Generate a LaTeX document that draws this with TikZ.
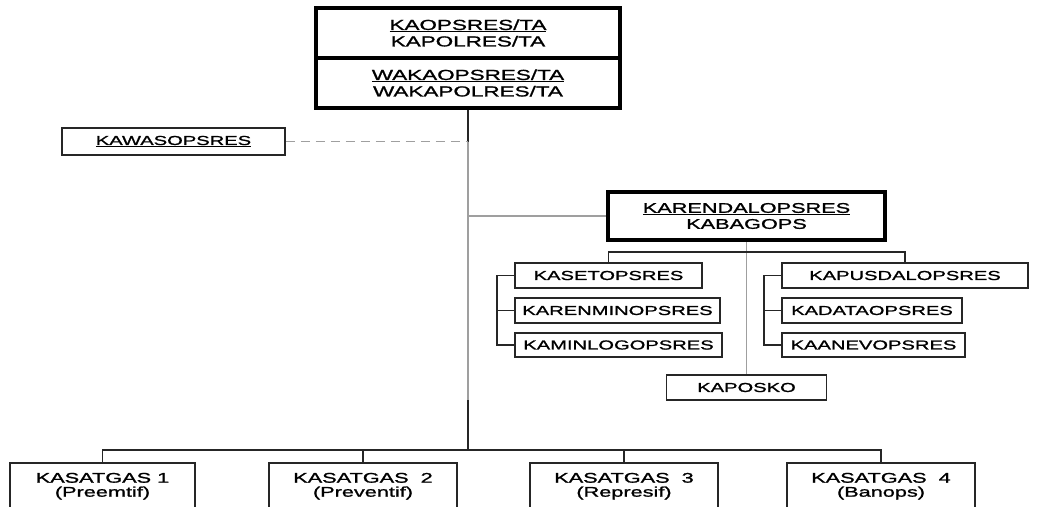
\documentclass[tikz,border=0pt]{standalone}
\usepackage{fontspec}
\setmainfont[FakeStretch=1.55,FakeBold=1.3]{Liberation Sans}
\usetikzlibrary{positioning}

\tikzset{
  orgbox/.style={draw=black!85, line width=1.8pt, inner sep=0pt, align=center,
    font=\fontsize{13}{16}\selectfont},
  headbox/.style={orgbox, draw=black, line width=3.8pt,
    font=\fontsize{14.5}{16.5}\selectfont},
  taskbox/.style={orgbox, anchor=north, minimum width=188pt, inner ysep=10pt,
    font=\fontsize{14}{14}\selectfont},
  link/.style={black!85, line width=1.8pt},
  faint/.style={gray!75, line width=1.8pt},
}

\begin{document}
\begin{tikzpicture}[x=1pt,y=-1pt]
  \useasboundingbox (0,0) rectangle (1040,506);
  \clip (0,0) rectangle (1040,506);

  % head of the chart
  \node [headbox, minimum width=304pt, minimum height=50pt] (ka) at (468,33)
    {\underline{KAOPSRES/TA}\\KAPOLRES/TA};
  \node [headbox, minimum width=304pt, minimum height=50pt] (waka) at (468,83)
    {\underline{WAKAOPSRES/TA}\\WAKAPOLRES/TA};

  \node [orgbox, minimum width=223pt, minimum height=27pt] (kawas) at (173.5,141.5)
    {\underline{KAWASOPSRES}};

  % staff
  \node [headbox, minimum width=277pt, minimum height=48pt,
    font=\fontsize{14}{16}\selectfont] (karendal) at (746.5,216)
    {\underline{KARENDALOPSRES}\\KABAGOPS};
  \node [orgbox, minimum width=187pt, minimum height=25pt] (kaset) at (608.5,275.5) {KASETOPSRES};
  \node [orgbox, minimum width=205pt, minimum height=25pt] (karenmin) at (617.5,310.5) {KARENMINOPSRES};
  \node [orgbox, minimum width=207pt, minimum height=24pt] (kaminlog) at (618.5,345) {KAMINLOGOPSRES};
  \node [orgbox, minimum width=246pt, minimum height=25pt] (kapusdal) at (905,275.5) {KAPUSDALOPSRES};
  \node [orgbox, minimum width=180pt, minimum height=25pt] (kadata) at (872,310.5) {KADATAOPSRES};
  \node [orgbox, minimum width=183pt, minimum height=24pt] (kaanev) at (873.5,345) {KAANEVOPSRES};
  \node [orgbox, minimum width=160pt, minimum height=25pt] (kaposko) at (746.5,387.5) {KAPOSKO};

  % task forces
  \node [taskbox, minimum width=185pt] (satgas1) at (102.5,462) {KASATGAS 1\\(Preemtif)};
  \node [taskbox] (satgas2) at (363,462) {KASATGAS\ \ 2\\(Preventif)};
  \node [taskbox] (satgas3) at (624,462) {KASATGAS\ \ 3\\(Represif)};
  \node [taskbox] (satgas4) at (881,462) {KASATGAS\ \ 4\\(Banops)};

  \coordinate (busy) at (0,450);
  \coordinate (midy) at (0,400);

  % command line
  \draw [link] (waka.south) -- (waka.south |- kawas.east);
  \draw [faint] (waka.south |- kawas.east) -- (waka.south |- midy);
  \draw [link] (waka.south |- midy) -- (waka.south |- busy);
  \draw [faint, dashed, dash pattern=on 9pt off 6pt] (kawas.east) -- (kawas.east -| waka.south);
  \draw [faint] (karendal.west) -- (karendal.west -| waka.south);

  % staff lines
  \draw [faint] (karendal.south) -- (kaposko.north);
  \draw [link] (kaset.north) -- ++(0,-10) -| (kapusdal.north);
  \draw [link] (kaset.west) -- ++(-17,0) |- (kaminlog.west);
  \draw [link] (karenmin.west) -- ++(-17,0);
  \draw [link] (kapusdal.west) -- ++(-17,0) |- (kaanev.west);
  \draw [link] (kadata.west) -- ++(-17,0);

  % task force bus
  \draw [link] (satgas1.north) -- ++(0,-12) -| (satgas4.north);
  \draw [link] (satgas2.north) -- ++(0,-12);
  \draw [link] (satgas3.north) -- ++(0,-12);
\end{tikzpicture}
\end{document}
